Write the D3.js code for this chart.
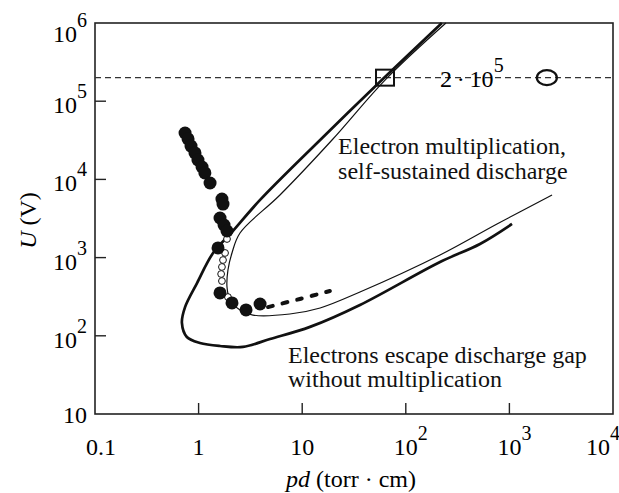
<!DOCTYPE html>
<html>
<head>
<meta charset="utf-8">
<script src="https://cdn.jsdelivr.net/npm/d3@7"></script>
<style>
  body { margin: 0; background: white; }
</style>
</head>
<body>
<svg id="chart"></svg>
<script>
// axis ticks + labels (base, exponent)
const xTicks = [0.1, 1, 10, 100, 1000, 10000];
const xTickLabels = [["0.1", ""], ["1", ""], ["10", ""], ["10", "2"], ["10", "3"], ["10", "4"]];
const yTicks = [10, 100, 1000, 10000, 100000, 1000000];
const yTickLabels = [["10", ""], ["10", "2"], ["10", "3"], ["10", "4"], ["10", "5"], ["10", "6"]];

// thick curve [pd, U]
const thickCurve = [
    [223, 1e6], [60, 1.92e5], [14.9, 31900], [3.92, 5460], [2.10, 2120], [1.38, 1146],
    [0.966, 473], [0.74, 233], [0.69, 146], [0.77, 96.6], [1.03, 81], [1.61, 74],
    [2.68, 72], [4.89, 91], [11.9, 130], [36.1, 248], [214, 879], [520, 1493], [1060, 2690]
];

// thin curve [pd, U]
const thinCurve = [
    [244, 1e6], [64.4, 1.92e5], [19.4, 31900], [6.1, 6320], [2.51, 2065], [2.10, 1146],
    [1.92, 694], [1.88, 421], [2.01, 287], [2.51, 214], [3.35, 184], [7.6, 190],
    [14.9, 227], [36.1, 363], [214, 1080], [759, 2690], [2580, 6320]
];

// measured points, filled
const filledPoints = [
    [0.740, 39200], [0.791, 32900], [0.845, 26700], [0.923, 21800], [0.986, 17700],
    [1.08, 14400], [1.15, 12100], [1.29, 9000], [1.68, 5610], [1.72, 4840],
    [1.61, 3210], [1.76, 2610], [1.88, 2190], [1.54, 1330], [1.61, 353],
    [2.10, 263], [2.87, 214], [3.92, 255]
];

// measured points, open
const openPoints = [
    [1.88, 1730], [1.80, 1146], [1.72, 931], [1.68, 759], [1.65, 617], [1.68, 502], [1.92, 313]
];

// dashed continuation of the data
const dashedData = [[4.68, 233], [9.5, 296], [18.5, 374]];

const refVoltage = 2e5;
const squareMarker = [63, 2e5];
const circleMarker = [2300, 2e5];

const FONT = '"Liberation Serif", "Times New Roman", Tinos, "Nimbus Roman", "DejaVu Serif", serif';

const W = 619, H = 493;
const margin = { top: 23, right: 6, bottom: 79, left: 95 };
const innerW = W - margin.left - margin.right;
const innerH = H - margin.top - margin.bottom;

const svg = d3.select("#chart")
    .attr("width", W).attr("height", H)
    .attr("font-family", FONT)
    .style("font-family", FONT);
const g = svg.append("g").attr("transform", `translate(${margin.left},${margin.top})`);

const x = d3.scaleLog().domain([0.1, 10000]).range([0, innerW]);
const y = d3.scaleLog().domain([10, 1e6]).range([innerH, 0]);

//frame
g.append("rect")
    .attr("width", innerW).attr("height", innerH)
    .attr("fill", "none").attr("stroke", "#222").attr("stroke-width", 1.6);

//inward ticks (no ticks at the corners)
g.selectAll("line.xt")
    .data(xTicks.slice(1, -1))
    .join("line")
    .attr("x1", d => x(d)).attr("x2", d => x(d))
    .attr("y1", innerH).attr("y2", innerH - 11)
    .attr("stroke", "#222").attr("stroke-width", 1.4);

g.selectAll("line.yt")
    .data(yTicks.slice(1, -1))
    .join("line")
    .attr("x1", 0).attr("x2", 11)
    .attr("y1", d => y(d)).attr("y2", d => y(d))
    .attr("stroke", "#222").attr("stroke-width", 1.4);

//tick labels with superscripts
function powerLabel(sel, base, exp) {
    sel.append("tspan").attr("class", "base").style("font-size", "24px").text(base);
    if (exp) sel.append("tspan").style("font-size", "20px").attr("dy", -15).text(exp);
}

xTicks.forEach((t, i) => {
    const [base, exp] = xTickLabels[i];
    const txt = g.append("text").attr("y", innerH + 41);
    powerLabel(txt, base, exp);
    const baseW = txt.select(".base").node().getComputedTextLength();
    const totalW = txt.node().getComputedTextLength();
    let px = x(t) - baseW / 2;
    px = Math.max(px, -9);
    px = Math.min(px, innerW + 7 - totalW);
    txt.attr("x", px);
});

yTicks.forEach((t, i) => {
    const [base, exp] = yTickLabels[i];
    const off = i === yTicks.length - 1 ? 19 : (i === 0 ? 9 : 12);
    const txt = g.append("text")
        .attr("x", -8).attr("y", y(t) + off)
        .attr("text-anchor", "end");
    powerLabel(txt, base, exp);
});

//axis titles
const xt = svg.append("text")
    .attr("x", margin.left + innerW / 2 - 3).attr("y", H - 6)
    .attr("text-anchor", "middle").style("font-size", "24px");
xt.append("tspan").style("font-style", "italic").text("pd");
xt.append("tspan").text(" (torr · cm)");

const yt = svg.append("text")
    .attr("transform", `translate(36,${margin.top + innerH / 2 + 2}) rotate(-90)`)
    .attr("text-anchor", "middle").style("font-size", "24px");
yt.append("tspan").style("font-style", "italic").text("U");
yt.append("tspan").text(" (V)");

//reference line at 2·10^5
g.append("line")
    .attr("x1", 0).attr("x2", innerW)
    .attr("y1", y(refVoltage)).attr("y2", y(refVoltage))
    .attr("stroke", "#333").attr("stroke-width", 1.3)
    .attr("stroke-dasharray", "6,4");

const refLabel = g.append("text")
    .attr("x", x(214)).attr("y", y(refVoltage) + 9);
refLabel.append("tspan").style("font-size", "24px").text("2\u2009·\u200910");
refLabel.append("tspan").style("font-size", "20px").attr("dy", -15).text("5");
const bb = refLabel.node().getBBox();
g.insert("rect", "text")
    .attr("x", bb.x - 6).attr("y", y(refVoltage) - 3)
    .attr("width", bb.width + 10).attr("height", 6)
    .attr("fill", "white");

//curves
const line = d3.line()
    .x(d => x(d[0]))
    .y(d => y(d[1]))
    .curve(d3.curveCatmullRom.alpha(0.5));

g.append("path").datum(thinCurve)
    .attr("d", line).attr("fill", "none")
    .attr("stroke", "#111").attr("stroke-width", 1.2);

g.append("path").datum(thickCurve)
    .attr("d", line).attr("fill", "none")
    .attr("stroke", "#111").attr("stroke-width", 2.7);

g.append("path").datum(dashedData)
    .attr("d", line).attr("fill", "none")
    .attr("stroke", "#111").attr("stroke-width", 4)
    .attr("stroke-linecap", "round")
    .attr("stroke-dasharray", "5,10");

//measured points
g.selectAll("circle.open")
    .data(openPoints)
    .join("circle")
    .attr("class", "open")
    .attr("cx", d => x(d[0])).attr("cy", d => y(d[1]))
    .attr("r", 3.4)
    .attr("fill", "white").attr("stroke", "#111").attr("stroke-width", 1);

g.selectAll("circle.filled")
    .data(filledPoints)
    .join("circle")
    .attr("class", "filled")
    .attr("cx", d => x(d[0])).attr("cy", d => y(d[1]))
    .attr("r", 6.5)
    .attr("fill", "#111");

//markers on the reference line
g.append("rect")
    .attr("x", x(squareMarker[0]) - 9).attr("y", y(squareMarker[1]) - 8)
    .attr("width", 18).attr("height", 16)
    .attr("fill", "none").attr("stroke", "#111").attr("stroke-width", 2);

g.append("ellipse")
    .attr("cx", x(circleMarker[0])).attr("cy", y(circleMarker[1]))
    .attr("rx", 10).attr("ry", 7.5)
    .attr("fill", "none").attr("stroke", "#111").attr("stroke-width", 2.2);

//region annotations
const notes = [
    { pd: 22.2, U: 21100, lines: ["Electron multiplication,", "self-sustained discharge"] },
    { pd: 7.3, U: 44.9, lines: ["Electrons escape discharge gap", "without multiplication"] }
];
notes.forEach(n => {
    n.lines.forEach((t, i) => {
        g.append("text")
            .attr("x", x(n.pd)).attr("y", y(n.U) + i * 24.5)
            .style("font-size", "24px")
            .style("fill", "#111")
            .text(t);
    });
});
</script>
</body>
</html>
